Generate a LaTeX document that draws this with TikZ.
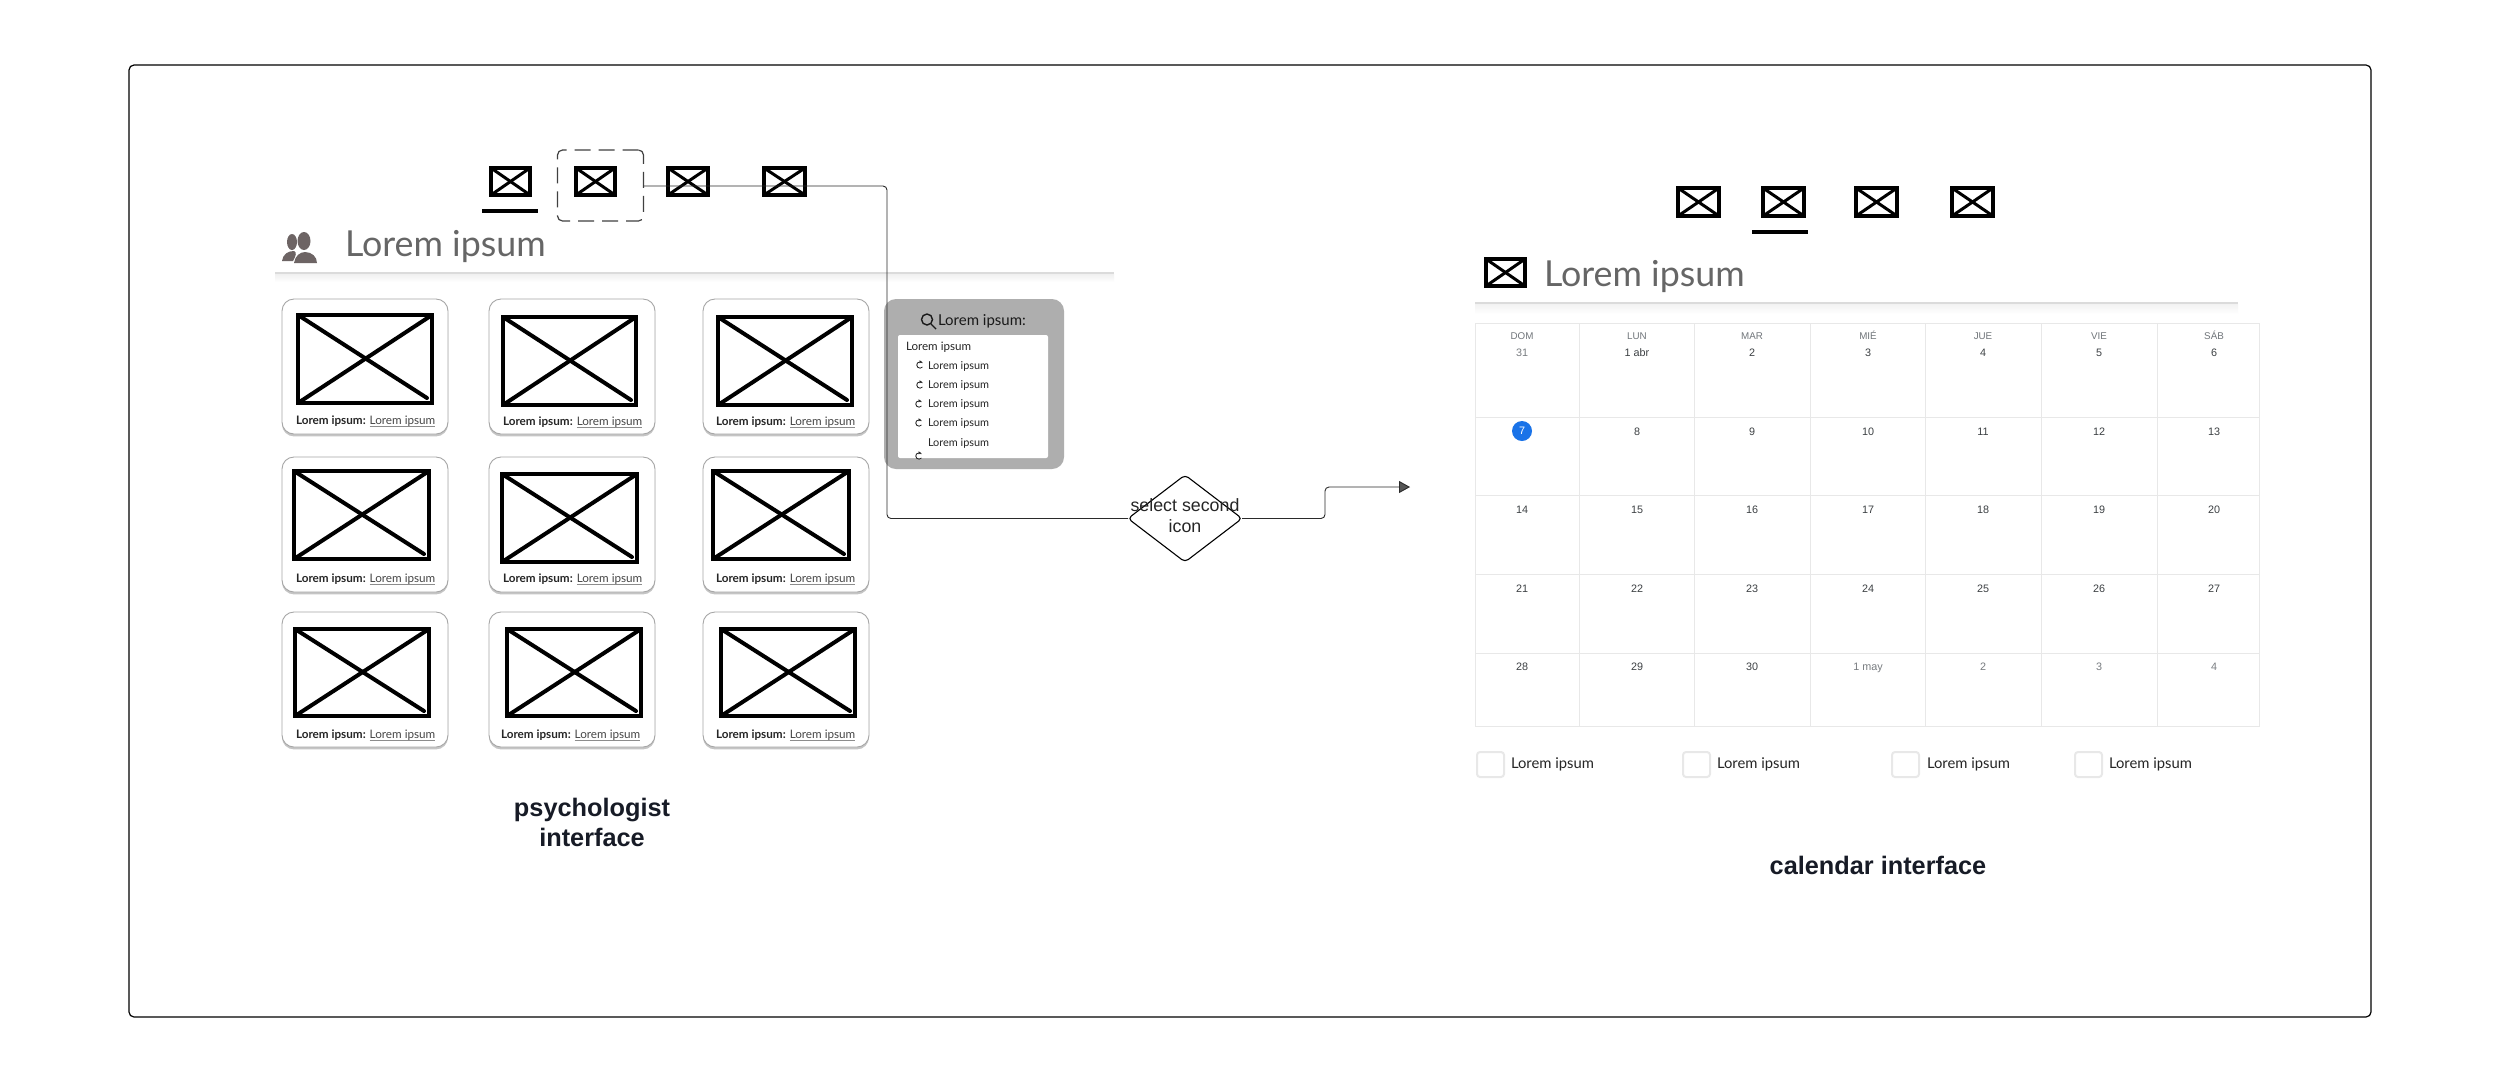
\documentclass[tikz,border=0pt]{standalone}
\usepackage{fontspec}
\usetikzlibrary{shapes.geometric,arrows.meta,shadows}
\setmainfont{Lato}
\newfontfamily\arialfont{Liberation Sans}
\definecolor{hgray}{HTML}{666666}
\definecolor{pgray}{HTML}{AEAEAE}
\definecolor{lgray}{HTML}{E8E8E8}
\definecolor{conn}{HTML}{2A2A2A}
\definecolor{tipc}{HTML}{555555}
\definecolor{pple}{HTML}{6D6464}
\definecolor{dhead}{HTML}{70757A}
\definecolor{ddark}{HTML}{3C4043}
\definecolor{dfade}{HTML}{787C80}
\definecolor{cblue}{HTML}{1A73E8}
\definecolor{ink}{HTML}{171B26}
\newcommand{\lul}[1]{\setbox0\hbox{#1}\rlap{\color{black!45}\rule[-0.55pt]{\wd0}{0.2pt}}\box0\relax}
\tikzset{
  x=0.5pt,y=-0.5pt,
  every node/.style={inner sep=0pt,outer sep=0pt},
  framebox/.style={draw=black,line width=0.6pt,rounded corners=2.5pt},
  imgline/.style={draw=black,line width=2pt,line cap=round},
  icoline/.style={draw=black,line width=2pt,line cap=round},
  card/.style={rectangle,draw=black!35,line width=0.45pt,rounded corners=6pt,fill=white,anchor=north west,
     drop shadow={shadow xshift=0pt,shadow yshift=-1.2pt,opacity=.45,fill=black!50}},
  cardtext/.style={font=\fontsize{5.85}{7}\selectfont,anchor=west,text=black!85},
  head/.style={font=\fontsize{17.9}{22}\selectfont,text=hgray,anchor=base west},
  wire/.style={draw=conn,line width=0.45pt,rounded corners=2pt},
  dayhead/.style={font=\arialfont\fontsize{4.9}{6}\selectfont,text=dhead,anchor=base},
  daynum/.style={font=\arialfont\fontsize{5.4}{6}\selectfont,text=ddark,anchor=base},
  dayfade/.style={font=\arialfont\fontsize{5.4}{6}\selectfont,text=dfade,anchor=base},
  gridl/.style={draw=lgray,line width=0.45pt},
  checkb/.style={rectangle,draw=lgray,line width=1pt,rounded corners=1.5pt,fill=white,anchor=north west},
  checkt/.style={font=\fontsize{7.4}{9}\selectfont,anchor=west,text=black!85},
  listt/.style={font=\fontsize{5.8}{7}\selectfont,anchor=west,text=black!85},
  subt/.style={font=\fontsize{5.45}{7}\selectfont,anchor=west,text=black!85},
  title/.style={font=\arialfont\bfseries\fontsize{12.65}{15}\selectfont,text=ink,align=center},
}
% wireframe image: x1 y1 x2 y2 (outer edges)
\newcommand{\wimg}[4]{%
  \draw[imgline] (#1+1,#2+1) rectangle (#3-1,#4-1);
  \draw[imgline] (#1+1,#2+1) -- (#3-6,#4-6);
  \draw[imgline] (#1+1,#4-1) -- (#3-1,#2+1);}
\newcommand{\wico}[4]{%
  \draw[icoline] (#1+1,#2+1) rectangle (#3-1,#4-1);
  \draw[icoline,line width=1.5pt] (#1+1,#2+1) -- (#3-1,#4-1);
  \draw[icoline,line width=1.5pt] (#1+1,#4-1) -- (#3-1,#2+1);}
\newcommand{\wcard}[9]{%
  \node[card,minimum width=83pt,minimum height=67.5pt] (#1) at (#2,#3) {};
  \wimg{#4}{#5}{#6}{#7}
  \node[cardtext] (#1t) at (#8,#9) {\textbf{Lorem ipsum:} \lul{\color{black!72}Lorem ipsum}};}
\newcommand{\wref}[2]{%
  \draw[black!85,line width=0.42pt] (#1+2.4,#2+2) arc (40:320:3.2);
  \fill[black!85] (#1-0.5,#2-4.8) -- (#1+1.8,#2-3.2) -- (#1-0.5,#2-1.6) -- cycle;}
\begin{document}
\begin{tikzpicture}
\useasboundingbox (0,0) rectangle (2500,1083);
\fill[white] (0,0) rectangle (2500,1083);
\draw[framebox] (129,65) rectangle (2371,1017);

% --- left heading
\draw[line width=2pt,draw=black,line cap=butt] (482,210.5) -- (538,210.5);
\wico{490}{167}{531}{196}
\wico{575}{167}{616}{196}
\wico{667}{167}{709}{196}
\wico{763}{167}{806}{196}
\fill[pple] (292,242) ellipse (5 and 8);
\fill[pple] (304,241) ellipse (6.5 and 9);
\fill[pple] (282,261) .. controls (283,254) and (288,251) .. (294,251) .. controls (297,252) and (296,256) .. (293,261) -- cycle;
\fill[pple] (294,263) .. controls (295,256) and (300,252) .. (305,252) .. controls (312,252) and (317,257) .. (317,263) -- cycle;
\node[head] (ltitle) at (345,256) {Lorem ipsum};
\shade[top color=black!6,bottom color=white] (275,274) rectangle (1114,282);
\draw[draw=black!14,line width=1pt] (275,273) -- (1114,273);

% --- cards
\wcard{ca}{282}{299}{297}{314}{433}{404}{296}{421.5}
\wcard{cb}{489}{299}{502}{316}{637}{406}{503}{422.5}
\wcard{cc}{703}{299}{717}{316}{853}{406}{716}{422.5}
\wcard{cd}{282}{457}{293}{470}{430}{560}{296}{579.5}
\wcard{ce}{489}{457}{501}{473}{638}{563}{503}{579.5}
\wcard{cf}{703}{457}{712}{470}{850}{560}{716}{579.5}
\wcard{cg}{282}{612}{294}{628}{430}{717}{296}{735.5}
\wcard{ch}{489}{612}{506}{628}{642}{717}{501}{735.5}
\wcard{ci}{703}{612}{720}{628}{856}{717}{716}{735.5}

% --- search panel
\fill[pgray,rounded corners=6pt] (884,299) rectangle (1064,469);
\fill[white,rounded corners=1pt] (898,335) rectangle (1048,458);
\draw[black!90,line width=0.7pt] (927,319.5) circle (5.5);
\draw[black!90,line width=0.7pt] (931,324) -- (936,329);
\node[font=\fontsize{7.5}{9}\selectfont,anchor=west,text=black!90] (ptitle) at (938,321) {Lorem ipsum:};
\node[listt] (l0) at (906,347) {Lorem ipsum};
\node[subt] (l1) at (928,366) {Lorem ipsum};
\node[subt] (l2) at (928,385) {Lorem ipsum};
\node[subt] (l3) at (928,404) {Lorem ipsum};
\node[subt] (l4) at (928,423) {Lorem ipsum};
\node[subt] (l5) at (928,443) {Lorem ipsum};
\wref{920}{365}\wref{920}{385}\wref{919}{404}\wref{919}{423}\wref{919}{456}

% --- connectors
\node[rectangle,draw=black!75,dashed,dash pattern=on 8pt off 4pt,line width=0.6pt,rounded corners=2.5pt,
  minimum width=43pt,minimum height=35.5pt] (sel) at (600.5,185.5) {};
\node[diamond,draw=black,line width=0.55pt,rounded corners=2pt,fill=white,minimum width=57pt,minimum height=43.5pt,aspect=1.31] (dia) at (1185,518.5) {};
\coordinate (c1) at (887,186);
\coordinate (c2) at (887,518.5);
\coordinate (c3) at (1325,518.5);
\coordinate (c4) at (1325,487);
\coordinate (tip) at (1410,487);
\draw[wire] (sel.east |- c1) -- (c1) -- (c2) -- (dia.west);
\draw[wire,-{Triangle[length=5.5pt,width=6pt,fill=tipc]}] (dia.east) -- (c3) -- (c4) -- (tip);
\node[font=\arialfont\fontsize{8.9}{10.6}\selectfont,align=center,text=black!85] (dtext) at (1185,516) {select second\\icon};

% --- right side
\draw[line width=2pt] (1752,232) -- (1808,232);
\wico{1677}{187}{1720}{217}
\wico{1762}{187}{1805}{217}
\wico{1855}{187}{1898}{217}
\wico{1951}{187}{1994}{217}
\wico{1485}{258}{1526}{287}
\node[head] (rtitle) at (1544,286) {Lorem ipsum};
\shade[top color=black!5,bottom color=white] (1475,304) rectangle (2238,314);
\draw[draw=black!14,line width=0.7pt] (1475,303) -- (2238,303);

% --- calendar grid
\draw[gridl] (1475,323) rectangle (2259,726);
\foreach \xx in {1579,1694,1810,1925,2041,2157} \draw[gridl] (\xx,323) -- (\xx,726);
\foreach \yy in {417,495,574,653} \draw[gridl] (1475,\yy) -- (2259,\yy);
\foreach \n/\xx/\t in {a/1522/DOM,b/1637/LUN,c/1752/MAR,d/1868/MIÉ,e/1983/JUE,f/2099/VIE,g/2214/SÁB}
  \node[dayhead] (h\n) at (\xx,339) {\t};
\node[dayfade] (r1a) at (1522,356) {31};
\foreach \n/\xx/\t in {b/1637/1 abr,c/1752/2,d/1868/3,e/1983/4,f/2099/5,g/2214/6}
  \node[daynum] (r1\n) at (\xx,356) {\t};
\fill[cblue] (1522,431) circle (10);
\node[font=\arialfont\fontsize{5.4}{6}\selectfont,text=white] (r2a) at (1522,431) {7};
\foreach \n/\xx/\t in {b/1637/8,c/1752/9,d/1868/10,e/1983/11,f/2099/12,g/2214/13}
  \node[daynum] (r2\n) at (\xx,435) {\t};
\foreach \n/\xx/\t in {a/1522/14,b/1637/15,c/1752/16,d/1868/17,e/1983/18,f/2099/19,g/2214/20}
  \node[daynum] (r3\n) at (\xx,513) {\t};
\foreach \n/\xx/\t in {a/1522/21,b/1637/22,c/1752/23,d/1868/24,e/1983/25,f/2099/26,g/2214/27}
  \node[daynum] (r4\n) at (\xx,592) {\t};
\foreach \n/\xx/\t in {a/1522/28,b/1637/29,c/1752/30}
  \node[daynum] (r5\n) at (\xx,670) {\t};
\foreach \n/\xx/\t in {d/1868/1 may,e/1983/2,f/2099/3,g/2214/4}
  \node[dayfade] (r5\n) at (\xx,670) {\t};

% --- check boxes
\foreach \n/\xx/\tx in {a/1477/1511,b/1683/1717,c/1892/1927,d/2075/2109}{
  \node[checkb,minimum width=13.5pt,minimum height=12.5pt] (k\n) at (\xx,752) {};
  \node[checkt] (kt\n) at (\tx,764) {Lorem ipsum};
}

% --- captions
\node[title] (tl) at (592,822) {psychologist\\interface};
\node[title] (tr) at (1878,865) {calendar interface};
\end{tikzpicture}
\end{document}
